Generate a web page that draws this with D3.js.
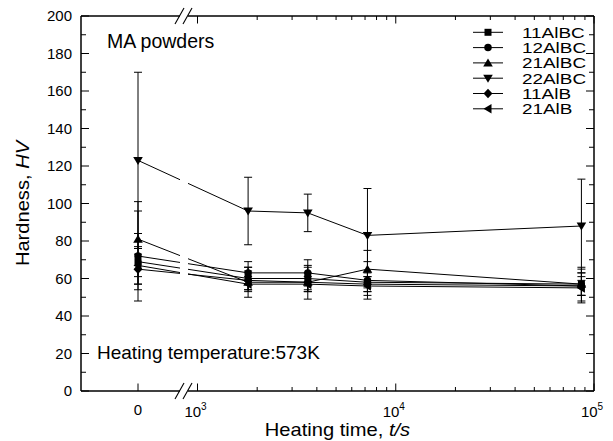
<!DOCTYPE html>
<html>
<head>
<meta charset="utf-8">
<script src="https://cdn.jsdelivr.net/npm/d3@7"></script>
<style>
  body { margin: 0; background: #fff; }
  svg { display: block; font-family: "Liberation Sans", Arial, sans-serif; }
</style>
</head>
<body>
<svg id="chart" width="613" height="441"></svg>
<script>
// heating times in seconds (0 = as-milled)
const times = [0, 1800, 3600, 7200, 86400];

const seriesNames = ["11AlBC", "12AlBC", "21AlBC", "22AlBC", "11AlB", "21AlB"];
const seriesSymbols = ["square", "circle", "triUp", "triDown", "diamond", "triLeft"];

// hardness HV
const hv11AlBC = [69, 60, 60, 58, 57];
const hv12AlBC = [72, 63, 63, 59, 56];
const hv21AlBC = [81, 58, 58, 65, 57];
const hv22AlBC = [123, 96, 95, 83, 88];
const hv11AlB = [65, 59, 58, 57, 56];
const hv21AlB = [67, 57, 57, 56, 55];

// error (+/-)
const err11AlBC = [15, 6, 6, 5, 6];
const err12AlBC = [24, 6, 7, 10, 9];
const err21AlBC = [20, 8, 9, 10, 9];
const err22AlBC = [47, 18, 10, 25, 25];
const err11AlB = [8, 5, 5, 4, 5];
const err21AlB = [10, 4, 4, 5, 4];

const yTicks = [0, 20, 40, 60, 80, 100, 120, 140, 160, 180, 200];
const xLogTicks = [1e3, 1e4, 1e5];

const values = [hv11AlBC, hv12AlBC, hv21AlBC, hv22AlBC, hv11AlB, hv21AlB];
const errors = [err11AlBC, err12AlBC, err21AlBC, err22AlBC, err11AlB, err21AlB];

const series = seriesNames.map((name, i) => ({
  name: name,
  symbol: seriesSymbols[i],
  points: times.map((t, j) => ({t: t, v: values[i][j], e: errors[i][j]}))
}));

const svg = d3.select("#chart");
const mLeft = 81, mRight = 594, mTop = 16, mBottom = 391;
const breakX0 = 180, breakX1 = 188;

const y = d3.scaleLinear().domain([0, 200]).range([mBottom, mTop]);
const xLin = d3.scaleLinear().domain([-1, 1]).range([mLeft, 195]);
const xLog = d3.scaleLog().domain([1e3, 1e5]).range([197.5, mRight]);
const xPos = t => t === 0 ? xLin(0) : xLog(t);

const line = d3.line().x(d => xPos(d.t)).y(d => y(d.v));

// symbol drawing
function symbolPath(type) {
  switch (type) {
    case "square": return "M-3.5,-3.5H3.5V3.5H-3.5Z";
    case "circle": return d3.symbol().type(d3.symbolCircle).size(44)();
    case "triUp": return "M0,-4.5L4.8,3.5L-4.8,3.5Z";
    case "triDown": return "M0,4.5L4.8,-3.5L-4.8,-3.5Z";
    case "diamond": return "M0,-4.8L4.5,0L0,4.8L-4.5,0Z";
    case "triLeft": return "M-4.5,0L3.5,-4.8L3.5,4.8Z";
  }
}

// text stretched a little wider, like the original
function stretchText(sel, x, yy, size, sx, anchor) {
  return sel.append("text")
    .attr("transform", `translate(${x},${yy}) scale(${sx},1)`)
    .attr("font-size", size)
    .attr("text-anchor", anchor || "start");
}

const plot = svg.append("g");

// lines
plot.selectAll(".line").data(series).enter()
  .append("path")
  .attr("d", d => line(d.points))
  .attr("fill", "none")
  .attr("stroke", "#000")
  .attr("stroke-width", 1);

// gap for axis break
svg.append("rect")
  .attr("x", breakX0).attr("y", mTop - 2)
  .attr("width", breakX1 - breakX0).attr("height", mBottom - mTop + 4)
  .attr("fill", "#fff");

// error bars
const eb = plot.selectAll(".eb").data(series.flatMap(s => s.points)).enter().append("g");
eb.append("line")
  .attr("x1", d => xPos(d.t)).attr("x2", d => xPos(d.t))
  .attr("y1", d => y(d.v - d.e)).attr("y2", d => y(d.v + d.e))
  .attr("stroke", "#000");
eb.selectAll(".cap").data(d => [d.v - d.e, d.v + d.e].map(v => ({t: d.t, v: v}))).enter()
  .append("line")
  .attr("x1", d => xPos(d.t) - 4).attr("x2", d => xPos(d.t) + 4)
  .attr("y1", d => y(d.v)).attr("y2", d => y(d.v))
  .attr("stroke", "#000");

// markers
series.forEach(s => {
  plot.selectAll(null).data(s.points).enter()
    .append("path")
    .attr("d", symbolPath(s.symbol))
    .attr("transform", d => `translate(${xPos(d.t)},${y(d.v)})`)
    .attr("fill", "#000");
});

// axes frame
const axisG = svg.append("g").attr("stroke", "#000").attr("stroke-width", 1.5);
axisG.append("line").attr("x1", mLeft).attr("x2", mLeft).attr("y1", mTop).attr("y2", mBottom);
axisG.append("line").attr("x1", mRight).attr("x2", mRight).attr("y1", mTop).attr("y2", mBottom);
[mTop, mBottom].forEach(yy => {
  axisG.append("line").attr("x1", mLeft).attr("x2", breakX0).attr("y1", yy).attr("y2", yy);
  axisG.append("line").attr("x1", breakX1).attr("x2", mRight).attr("y1", yy).attr("y2", yy);
  // break slashes
  [breakX0 - 1, breakX1 - 1].forEach(bx => {
    axisG.append("line")
      .attr("x1", bx - 4).attr("y1", yy + 8)
      .attr("x2", bx + 5).attr("y2", yy - 8)
      .attr("stroke-width", 1.1);
  });
});

// y ticks (left and right, inward)
const yMinor = d3.range(10, 200, 20);
const tickG = svg.append("g").attr("stroke", "#000").attr("stroke-width", 1);
yTicks.forEach(v => {
  tickG.append("line").attr("x1", mLeft).attr("x2", mLeft + 8).attr("y1", y(v)).attr("y2", y(v));
  tickG.append("line").attr("x1", mRight).attr("x2", mRight - 8).attr("y1", y(v)).attr("y2", y(v));
});
yMinor.forEach(v => {
  tickG.append("line").attr("x1", mLeft).attr("x2", mLeft + 5).attr("y1", y(v)).attr("y2", y(v));
  tickG.append("line").attr("x1", mRight).attr("x2", mRight - 5).attr("y1", y(v)).attr("y2", y(v));
});

// x ticks
const xMinor = d3.range(2, 10).map(m => m * 1e3).concat(d3.range(2, 10).map(m => m * 1e4));
tickG.append("line").attr("x1", xPos(0)).attr("x2", xPos(0)).attr("y1", mBottom).attr("y2", mBottom - 7.5);
xLogTicks.forEach(t => {
  tickG.append("line").attr("x1", xLog(t)).attr("x2", xLog(t)).attr("y1", mBottom).attr("y2", mBottom - 7.5);
  tickG.append("line").attr("x1", xLog(t)).attr("x2", xLog(t)).attr("y1", mTop).attr("y2", mTop + 7.5);
});
xMinor.forEach(t => {
  tickG.append("line").attr("x1", xLog(t)).attr("x2", xLog(t)).attr("y1", mBottom).attr("y2", mBottom - 4);
  tickG.append("line").attr("x1", xLog(t)).attr("x2", xLog(t)).attr("y1", mTop).attr("y2", mTop + 4);
});

// y tick labels
svg.append("g").selectAll("text").data(yTicks).enter()
  .append("text")
  .attr("x", mLeft - 9).attr("y", d => y(d) + 5)
  .attr("text-anchor", "end")
  .attr("font-size", 15)
  .text(d => d);

// x tick labels
svg.append("text").attr("x", xPos(0)).attr("y", 415).attr("text-anchor", "middle")
  .attr("font-size", 15).text("0");
xLogTicks.forEach(t => {
  const txt = svg.append("text").attr("x", xLog(t) - 2).attr("y", 417).attr("text-anchor", "middle")
    .attr("font-size", 15);
  txt.append("tspan").text("10");
  txt.append("tspan").attr("dy", -7).attr("font-size", 10).text(Math.round(Math.log10(t)));
});

// axis titles
const xt = stretchText(svg, (mLeft + mRight) / 2, 436, 17.5, 1.15, "middle");
xt.append("tspan").text("Heating time, ");
xt.append("tspan").attr("font-style", "italic").text("t/s");

const yt = svg.append("text")
  .attr("transform", `translate(29,${(mTop + mBottom) / 2}) rotate(-90) scale(1.15,1)`)
  .attr("text-anchor", "middle").attr("font-size", 17.5);
yt.append("tspan").text("Hardness, ");
yt.append("tspan").attr("font-style", "italic").text("HV");

// annotations
svg.append("text").attr("x", 107).attr("y", 48).attr("font-size", 19.5).text("MA powders");
svg.append("text").attr("x", 97).attr("y", 359).attr("font-size", 19).text("Heating temperature:573K");

// legend
const legend = svg.append("g").selectAll("g").data(series).enter()
  .append("g")
  .attr("transform", (d, i) => `translate(0,${32.3 + i * 15.3})`);
legend.append("line").attr("x1", 473).attr("x2", 503).attr("y1", 0).attr("y2", 0)
  .attr("stroke", "#000");
legend.append("path").attr("d", d => symbolPath(d.symbol))
  .attr("transform", "translate(488,0)").attr("fill", "#000");
legend.each(function(d) {
  stretchText(d3.select(this), 522, 5.5, 15.5, 1.22).text(d.name);
});
</script>
</body>
</html>
